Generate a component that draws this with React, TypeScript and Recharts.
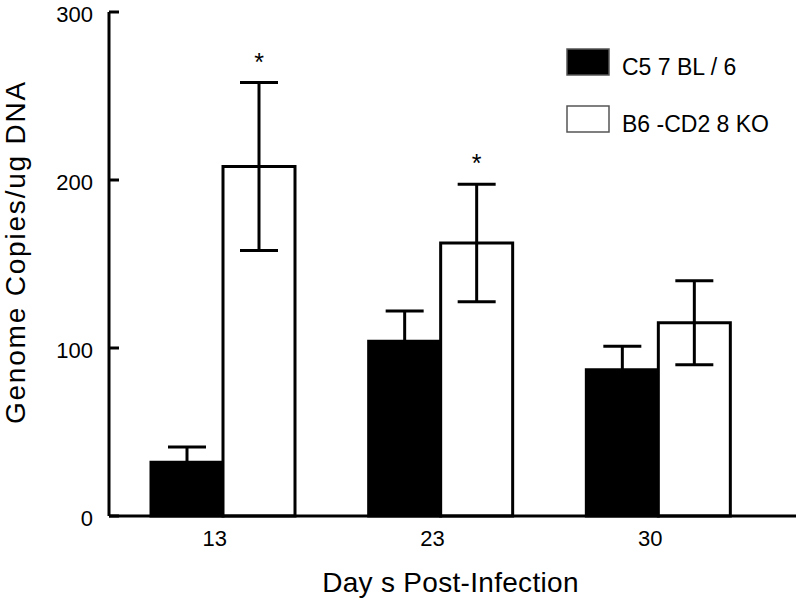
import React from 'react';
import { BarChart, Bar, XAxis, YAxis, ErrorBar, LabelList, Legend } from 'recharts';

// days post-infection
const days = ['13', '23', '30'];

// C57BL/6 (black bars)
const c57Means = [32, 104, 87];
const c57Errors = [9, 18, 14];

// B6-CD28 KO (white bars)
const koMeans = [208, 162.5, 115];
const koErrors = [50, 35, 25];
const koSignificance = ['*', '*', ''];

const yTicks = [0, 100, 200, 300];
const seriesOrder = ['c57', 'ko'];

const FONT = '"Liberation Sans", Arial, sans-serif';

const data = days.map((day, i) => ({
  day,
  c57: c57Means[i],
  c57Err: c57Errors[i],
  ko: koMeans[i],
  koErr: koErrors[i],
  sig: koSignificance[i],
}));

const YTick = (props: any) => {
  const { x, y, payload } = props;
  return (
    <g>
      <line x1={x + 16} x2={x + 26} y1={y} y2={y} stroke="#000" strokeWidth={3} />
      <text x={x} y={y + 10} textAnchor="end" fontSize={22} fontFamily={FONT} fill="#000">
        {payload.value}
      </text>
    </g>
  );
};

const XTick = (props: any) => {
  const { x, y, payload } = props;
  return (
    <text x={x - 8} y={y} textAnchor="middle" fontSize={22} fontFamily={FONT} fill="#000">
      {payload.value}
    </text>
  );
};

const Star = (props: any) => {
  const { x, y, width, height, index, value } = props;
  if (!value) return null;
  const perUnit = height / koMeans[index];
  const capY = y - koErrors[index] * perUnit;
  return (
    <text x={x + width / 2} y={capY - 12} textAnchor="middle" fontSize={25} fontFamily={FONT} fill="#000">
      {value}
    </text>
  );
};

const YTitle = () => {
  const cx = 25;
  const cy = 252;
  return (
    <text
      x={cx}
      y={cy}
      transform={`rotate(-90, ${cx}, ${cy})`}
      textAnchor="middle"
      fontSize={28}
      letterSpacing={1.8}
      fontFamily={FONT}
      fill="#000"
    >
      Genome Copies/ug DNA
    </text>
  );
};

const renderLegend = (props: any) => {
  const items = [...props.payload].sort(
    (a: any, b: any) => seriesOrder.indexOf(a.dataKey) - seriesOrder.indexOf(b.dataKey)
  );
  return (
    <svg width={240} height={100} style={{ display: 'block' }}>
      {items.map((entry: any, i: number) => (
        <g key={entry.value}>
          <rect x={2} y={2 + i * 57} width={42} height={26} fill={entry.color} stroke="#555" strokeWidth={1.5} />
          <text x={57} y={28 + i * 57} fontSize={23} fontFamily={FONT} fill="#000">
            {entry.value}
          </text>
        </g>
      ))}
    </svg>
  );
};

export default function App() {
  return (
    <div style={{ position: 'absolute', left: 0, top: 0, width: 800, height: 602, background: '#fff' }}>
      <BarChart
        width={800}
        height={602}
        data={data}
        margin={{ top: 12, right: 4, bottom: 56, left: 49 }}
        barGap={0}
        barSize={72}
      >
        <XAxis
          dataKey="day"
          height={30}
          padding={{ left: 5, right: 29 }}
          axisLine={{ stroke: '#000', strokeWidth: 3 }}
          tickLine={false}
          tickSize={0}
          tickMargin={30}
          tick={<XTick />}
          label={{
            value: 'Day s  Post-Infection',
            position: 'insideBottom',
            offset: -46,
            fontSize: 28,
            letterSpacing: 0.3,
            fontFamily: FONT,
            fill: '#000',
            dx: -2,
          }}
        />
        <YAxis
          width={60}
          domain={[0, 300]}
          ticks={yTicks}
          axisLine={{ stroke: '#000', strokeWidth: 3 }}
          tickLine={false}
          tickSize={0}
          tickMargin={16}
          tick={<YTick />}
          label={<YTitle />}
        />
        <Legend
          layout="horizontal"
          verticalAlign="middle"
          align="center"
          content={renderLegend}
          wrapperStyle={{ left: 565, top: 47, width: 240, height: 100 }}
        />
        <Bar dataKey="c57" name="C5 7 BL / 6" fill="#000" stroke="#000" strokeWidth={3} isAnimationActive={false}>
          <ErrorBar dataKey="c57Err" direction="y" width={19} stroke="#000" strokeWidth={3} />
        </Bar>
        <Bar dataKey="ko" name="B6 -CD2 8 KO" fill="#fff" stroke="#000" strokeWidth={3} isAnimationActive={false}>
          <ErrorBar dataKey="koErr" direction="y" width={19} stroke="#000" strokeWidth={3} />
          <LabelList dataKey="sig" content={<Star />} />
        </Bar>
      </BarChart>
    </div>
  );
}
